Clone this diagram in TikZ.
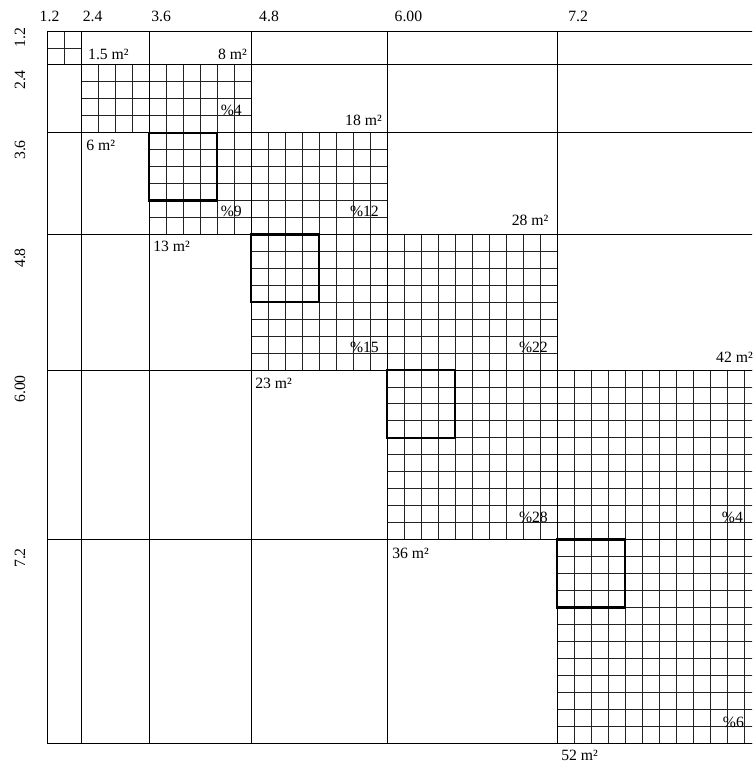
\documentclass[tikz,border=0pt]{standalone}
\usepackage{fontspec}
\setmainfont{Liberation Serif}
\usepackage{xcolor}
\definecolor{linecolor}{RGB}{0,0,0}
\definecolor{cellcolor}{RGB}{35,35,35}
\usepackage{tikz}

\begin{document}
\begin{tikzpicture}[x=17pt, y=-16.95pt,
  every node/.style={color=linecolor, inner sep=0pt, font=\fontsize{15.7}{18}\selectfont},
  mainline/.style={linecolor, line width=0.9pt},
  cellline/.style={cellcolor, line width=0.9pt},
  boldbox/.style={linecolor, line width=2.4pt}]
  \useasboundingbox (-2.765,-1.829) rectangle (41.47,43.3);
  \clip (-2.765,-1.829) rectangle (41.47,43.3);

  % fine cells, one band per row block
  \foreach \a/\b/\c in {0/2/2, 2/6/12, 6/12/20, 12/20/30, 20/30/42, 30/42/42} {
    \foreach \i in {\a,...,\c} \draw[cellline] (\i,\a) -- (\i,\b);
    \foreach \j in {\a,...,\b} \draw[cellline] (\a,\j) -- (\c,\j);
  }

  % block lines
  \foreach \s in {0,2,6,12,20,30,42} {
    \draw[mainline] (\s,0) -- (\s,42);
    \draw[mainline] (0,\s) -- (42,\s);
  }

  % 4x4 squares
  \foreach \a in {6,12,20,30} \draw[boldbox] (\a,\a) rectangle ++(4,4);

  % scale along the top
  \node[anchor=base] (t1) at (0.15,-0.59) {1.2};
  \node[anchor=base] (t2) at (2.68,-0.59) {2.4};
  \node[anchor=base] (t3) at (6.71,-0.59) {3.6};
  \node[anchor=base] (t4) at (13.06,-0.59) {4.8};
  \node[anchor=base] (t5) at (21.26,-0.59) {6.00};
  \node[anchor=base] (t6) at (31.24,-0.59) {7.2};

  % scale along the left
  \node[anchor=base, rotate=90] (l1) at (-1.29,0.41) {1.2};
  \node[anchor=base, rotate=90] (l2) at (-1.29,2.89) {2.4};
  \node[anchor=base, rotate=90] (l3) at (-1.29,7.02) {3.6};
  \node[anchor=base, rotate=90] (l4) at (-1.29,13.39) {4.8};
  \node[anchor=base, rotate=90] (l5) at (-1.29,21.12) {6.00};
  \node[anchor=base, rotate=90] (l6) at (-1.29,31.09) {7.2};

  % areas
  \node[anchor=base west] (a1) at (2.41,1.71) {1.5 m²};
  \node[anchor=base east] (a2) at (11.76,1.71) {8 m²};
  \node[anchor=base east] (a3) at (19.7,5.55) {18 m²};
  \node[anchor=base west] (a4) at (2.3,7.02) {6 m²};
  \node[anchor=base east] (a5) at (29.5,11.45) {28 m²};
  \node[anchor=base west] (a6) at (6.24,12.98) {13 m²};
  \node[anchor=base west] (a7) at (39.35,19.53) {42 m²};
  \node[anchor=base west] (a8) at (12.24,21.06) {23 m²};
  \node[anchor=base west] (a9) at (20.3,31.09) {36 m²};
  \node[anchor=base west] (a10) at (30.24,43.01) {52 m²};

  % shares
  \node[anchor=base east] (p1) at (11.47,4.96) {\%4};
  \node[anchor=base east] (p2) at (11.47,10.97) {\%9};
  \node[anchor=base east] (p3) at (19.53,10.97) {\%12};
  \node[anchor=base east] (p4) at (19.53,18.94) {\%15};
  \node[anchor=base east] (p5) at (29.47,18.94) {\%22};
  \node[anchor=base east] (p6) at (29.47,28.97) {\%28};
  \node[anchor=base east] (p7) at (40.94,28.97) {\%4};
  \node[anchor=base east] (p8) at (41.0,41.06) {\%6};
\end{tikzpicture}
\end{document}
